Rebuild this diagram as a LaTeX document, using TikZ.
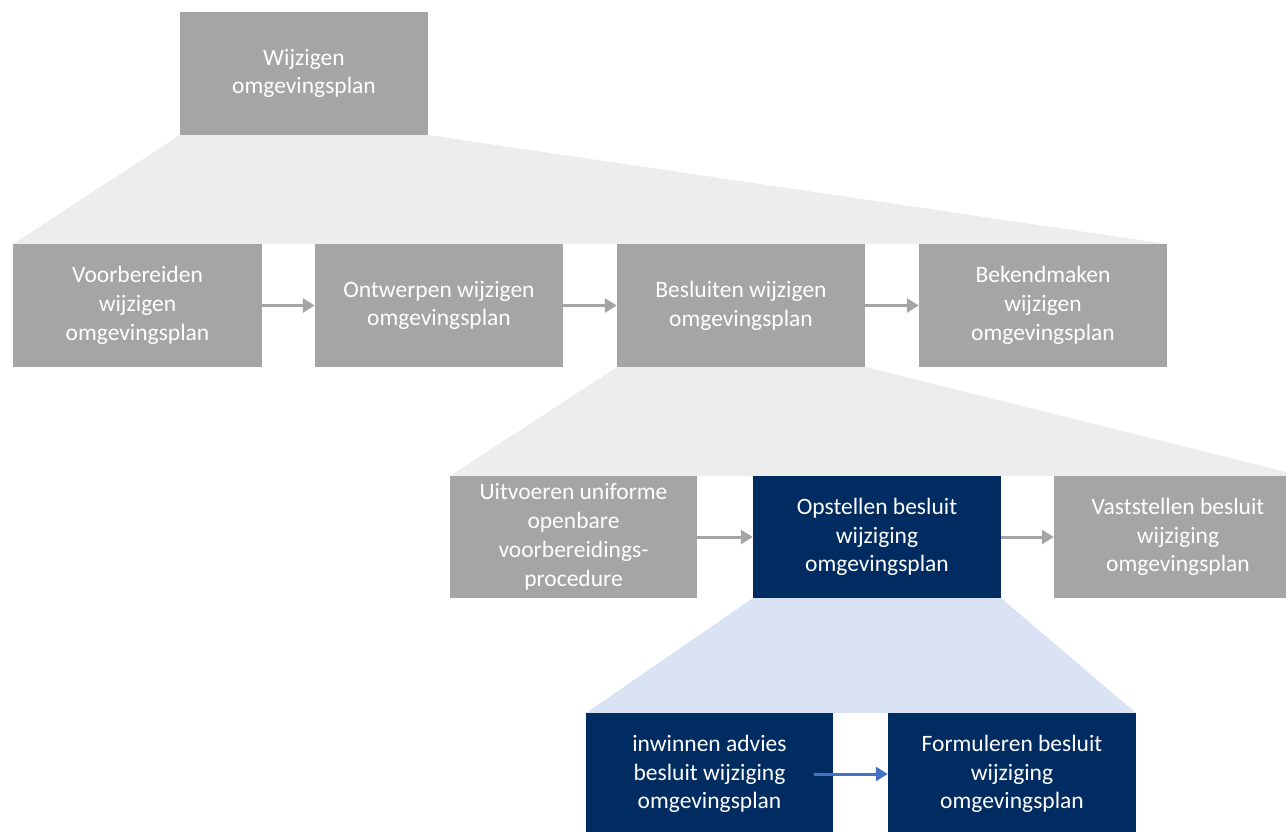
\documentclass[tikz,border=0pt]{standalone}
\usepackage{fontspec}
\setmainfont{Carlito}
\usetikzlibrary{arrows.meta}
\definecolor{boxgray}{HTML}{A5A5A5}
\definecolor{fangray}{HTML}{EDEDED}
\definecolor{navy}{HTML}{002C61}
\definecolor{fanblue}{HTML}{DAE3F3}
\definecolor{arrblue}{HTML}{4472C4}
\tikzset{
  box/.style={rectangle, inner sep=0pt, minimum width=248pt, minimum height=123pt,
    align=center, text=white, font=\fontsize{23.5}{28.8}\selectfont},
  graybox/.style={box, fill=boxgray},
  navybox/.style={box, fill=navy},
  grayarrow/.style={draw=boxgray, line width=3pt, -{Triangle[length=12pt,width=14pt]}},
  bluearrow/.style={draw=arrblue, line width=3pt, -{Triangle[length=12pt,width=14pt]}},
}
\begin{document}
\begin{tikzpicture}[x=1pt,y=-1pt]
\useasboundingbox (0,0) rectangle (1286,832);
\clip (0,0) rectangle (1286,832);
% fans
\fill[fangray] (180,135) -- (428,135) -- (1167,244) -- (13,244) -- cycle;
\fill[fangray] (617,367) -- (865,367) -- (1302,476) -- (450,476) -- cycle;
\fill[fanblue] (753,598) -- (1001,598) -- (1136,713) -- (586,713) -- cycle;
% level 1
\node[graybox] (top) at (304,73.5) {Wijzigen\\omgevingsplan};
% level 2
\node[graybox, minimum width=249pt] (v) at (137.5,305.5) {Voorbereiden\\wijzigen\\omgevingsplan};
\node[graybox] (o) at (439,305.5) {Ontwerpen wijzigen\\omgevingsplan};
\node[graybox] (b) at (741,305.5) {Besluiten wijzigen\\omgevingsplan};
\node[graybox] (k) at (1043,305.5) {Bekendmaken\\wijzigen\\omgevingsplan};
% level 3
\node[graybox, minimum width=247pt, minimum height=122pt] (u) at (573.5,537) {Uitvoeren uniforme\\openbare\\voorbereidings-\\procedure};
\node[navybox, minimum height=122pt] (op) at (877,537) {Opstellen besluit\\wijziging\\omgevingsplan};
\node[graybox, minimum height=122pt] (va) at (1178,537) {Vaststellen besluit\\wijziging\\omgevingsplan};
% level 4
\node[navybox, minimum width=247pt, minimum height=122pt] (in) at (709.5,774) {inwinnen advies\\besluit wijziging\\omgevingsplan};
\node[navybox, minimum height=122pt] (fo) at (1012,774) {Formuleren besluit\\wijziging\\omgevingsplan};
% arrows
\draw[grayarrow] (v.east) -- (o.west);
\draw[grayarrow] (o.east) -- (b.west);
\draw[grayarrow] (b.east) -- (k.west);
\draw[grayarrow] (u.east) -- (op.west);
\draw[grayarrow] (op.east) -- (va.west);
\draw[bluearrow] ([xshift=-19pt]in.east) -- (fo.west);
\end{tikzpicture}
\end{document}
